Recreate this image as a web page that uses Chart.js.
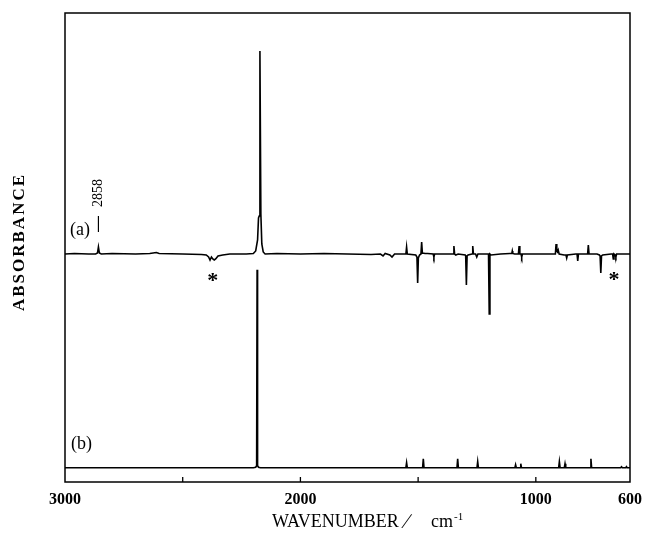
<!DOCTYPE html>
<html>
<head>
<meta charset="utf-8">
<script src="https://cdn.jsdelivr.net/npm/chart.js@4.4.1/dist/chart.umd.min.js"></script>
<style>
  html, body { margin: 0; padding: 0; background: #fff; }
  canvas { display: block; }
</style>
</head>
<body>
<canvas id="c" width="650" height="537"></canvas>
<script>
// ---- Data (absorbance relative to each spectrum's own baseline, arbitrary units) ----
const specA_wn = [3000, 2960, 2900, 2870, 2862, 2858, 2854, 2846, 2800, 2700, 2640, 2612, 2600, 2500, 2420, 2400, 2390, 2384, 2378, 2372, 2366, 2360, 2350, 2330, 2300, 2230, 2200, 2190, 2182, 2178, 2175, 2172, 2168, 2164, 2158, 2150, 2100, 2000, 1900, 1800, 1700, 1660, 1649, 1640, 1620, 1611, 1600, 1560, 1552, 1549, 1546, 1510, 1505, 1502, 1499, 1494, 1488, 1485, 1482, 1470, 1460, 1436, 1433, 1430, 1420, 1360, 1351, 1348, 1345, 1340, 1330, 1300, 1298, 1295, 1292, 1288, 1271, 1268, 1265, 1256, 1251, 1246, 1240, 1210, 1201, 1198, 1195, 1190, 1150, 1110, 1102, 1100, 1098, 1090, 1074, 1071, 1068, 1063, 1060, 1057, 1050, 950, 917, 914, 911, 908, 905, 901, 880, 872, 869, 866, 830, 825, 822, 819, 790, 780, 777, 774, 740, 730, 727, 724, 721, 716, 680, 674, 671, 668, 663, 660, 657, 650, 600];
const specA_abs = [0, 0.5, 0, 0, 1, 7, 1, 0, 0.5, 0, 0.5, 1.5, 0.5, 0, -0.5, -1, -3, -6, -3, -5, -6, -5, -2, -1, 0, 0, 0.5, 3, 14, 36, 38, 203, 40, 10, 2, 0, 0.5, 0, 0.5, 0, -0.5, 0, -2, 0.5, -1, -3, 0, 0, 0, 7, 0, -1, -3, -29, -4, -1, 0, 12, 1, 0.5, 0.5, 0, -3, 0, 0, 0, 0, 8, 0, -1, 0, -1, -2, -31, -2, -1, 0, 8, 0, 0, -3, 0, 0, 0, 0, -60, 0, -1, 0, 0.5, 0.5, 3, 0.5, 0, 0, 8, 0, 0, -3, 0, 0, 0, 0, 10, 3, 2, 4, 0, -1, -1, -4, -1, 0, 0, -7, 0, 0, 0, 9, 0, 0, -1, -2, -19, -2, -1, 0, 0, -5, 0, -1, -3, 0, 0, 0];

const specB_wn = [3000, 2200, 2190, 2186, 2184, 2182, 2178, 2170, 1560, 1552, 1549, 1546, 1481, 1478, 1475, 1335, 1332, 1329, 1250, 1247, 1244, 1089, 1086, 1083, 1067, 1064, 1061, 903, 900, 897, 879, 876, 873, 769, 766, 763, 640, 636, 633, 618, 615, 612, 600];
const specB_abs = [0, 0, 0.5, 2, 198, 2, 0.5, 0, 0, 0, 5, 0, 0, 9, 0, 0, 9, 0, 0, 6, 0, 0, 3, 0, 0, 4, 0, 0, 6, 0, 0, 4, 0, 0, 9, 0, 0, 1, 0, 0, 1, 0, 0];

const xTickValues = [3000, 2500, 2000, 1500, 1000, 600];
const xTickLabels = ['3000', '', '2000', '', '1000', '600'];

// baselines of the two stacked traces (presentation offsets)
const offsetA = 228;
const offsetB = 14.3;

const serif = '"Liberation Serif", "DejaVu Serif", serif';

const dataA = specA_wn.map((w, i) => ({ x: w, y: specA_abs[i] + offsetA }));
const dataB = specB_wn.map((w, i) => ({ x: w, y: specB_abs[i] + offsetB }));

const decor = {
  id: 'decor',
  afterDatasetsDraw(chart) {
    const ctx = chart.ctx;
    const a = chart.chartArea;
    const xs = chart.scales.x, ys = chart.scales.y;
    ctx.save();
    // frame
    ctx.strokeStyle = '#000';
    ctx.lineWidth = 1.5;
    ctx.strokeRect(a.left, a.top, a.right - a.left, a.bottom - a.top);
    // inward ticks
    ctx.lineWidth = 1.3;
    xTickValues.forEach(v => {
      const px = xs.getPixelForValue(v);
      if (px > a.left + 2 && px < a.right - 2) {
        ctx.beginPath();
        ctx.moveTo(px, a.bottom);
        ctx.lineTo(px, a.bottom - 5);
        ctx.stroke();
      }
    });
    ctx.fillStyle = '#000';
    // (a) and (b)
    ctx.font = '18px ' + serif;
    ctx.textAlign = 'center';
    ctx.textBaseline = 'middle';
    ctx.fillText('(a)', xs.getPixelForValue(2936), ys.getPixelForValue(offsetA + 24));
    ctx.fillText('(b)', xs.getPixelForValue(2930), ys.getPixelForValue(offsetB + 23));
    // 2858 marker
    const px2858 = xs.getPixelForValue(2858);
    ctx.lineWidth = 1.2;
    ctx.beginPath();
    ctx.moveTo(px2858, ys.getPixelForValue(offsetA + 38));
    ctx.lineTo(px2858, ys.getPixelForValue(offsetA + 22));
    ctx.stroke();
    ctx.save();
    ctx.translate(px2858, ys.getPixelForValue(offsetA + 61));
    ctx.rotate(-Math.PI / 2);
    ctx.font = '14px ' + serif;
    ctx.textAlign = 'center';
    ctx.textBaseline = 'middle';
    ctx.fillText('2858', 0, 0);
    ctx.restore();
    // asterisks
    ctx.font = 'bold 22px ' + serif;
    ctx.textBaseline = 'alphabetic';
    ctx.fillText('*', xs.getPixelForValue(2372), ys.getPixelForValue(offsetA - 33));
    ctx.fillText('*', xs.getPixelForValue(668), ys.getPixelForValue(offsetA - 32));
    // y title
    ctx.save();
    ctx.translate(20, 242);
    ctx.rotate(-Math.PI / 2);
    ctx.font = 'bold 17px ' + serif;
    try { ctx.letterSpacing = '2px'; } catch (e) {}
    ctx.textAlign = 'center';
    ctx.textBaseline = 'middle';
    ctx.fillText('ABSORBANCE', 0, 0);
    ctx.restore();
    // x title
    ctx.font = '18px ' + serif;
    ctx.textAlign = 'left';
    ctx.textBaseline = 'alphabetic';
    const x0 = 272, yb = 527;
    ctx.fillText('WAVENUMBER', x0, yb);
    ctx.font = '21px ' + serif;
    ctx.fillText('\u2215', 405, yb + 1);
    ctx.font = '18px ' + serif;
    ctx.fillText('cm', 431, yb);
    const wcm = ctx.measureText('cm').width;
    ctx.font = '11px ' + serif;
    ctx.fillText('-1', 431 + wcm + 1, yb - 7);
    ctx.restore();
  }
};

new Chart(document.getElementById('c'), {
  type: 'line',
  data: {
    datasets: [
      { label: '(a)', data: dataA, borderColor: '#000', borderWidth: 1.6, pointRadius: 0, tension: 0, fill: false },
      { label: '(b)', data: dataB, borderColor: '#000', borderWidth: 1.6, pointRadius: 0, tension: 0, fill: false }
    ]
  },
  options: {
    responsive: false,
    animation: false,
    devicePixelRatio: 1,
    layout: { padding: { left: 65, right: 20, top: 13, bottom: 19.8 } },
    plugins: { legend: { display: false }, tooltip: { enabled: false } },
    scales: {
      x: {
        type: 'linear',
        min: 600,
        max: 3000,
        reverse: true,
        grid: { display: false, drawTicks: false },
        border: { display: false },
        afterBuildTicks: (scale) => { scale.ticks = xTickValues.map(v => ({ value: v })); },
        ticks: {
          autoSkip: false,
          maxRotation: 0,
          padding: 8,
          color: '#000',
          font: { family: serif, size: 16, weight: 'bold' },
          callback: (v) => { const i = xTickValues.indexOf(v); return i >= 0 ? xTickLabels[i] : ''; }
        }
      },
      y: {
        display: false,
        min: 0,
        max: 469
      }
    }
  },
  plugins: [decor]
});
</script>
</body>
</html>
